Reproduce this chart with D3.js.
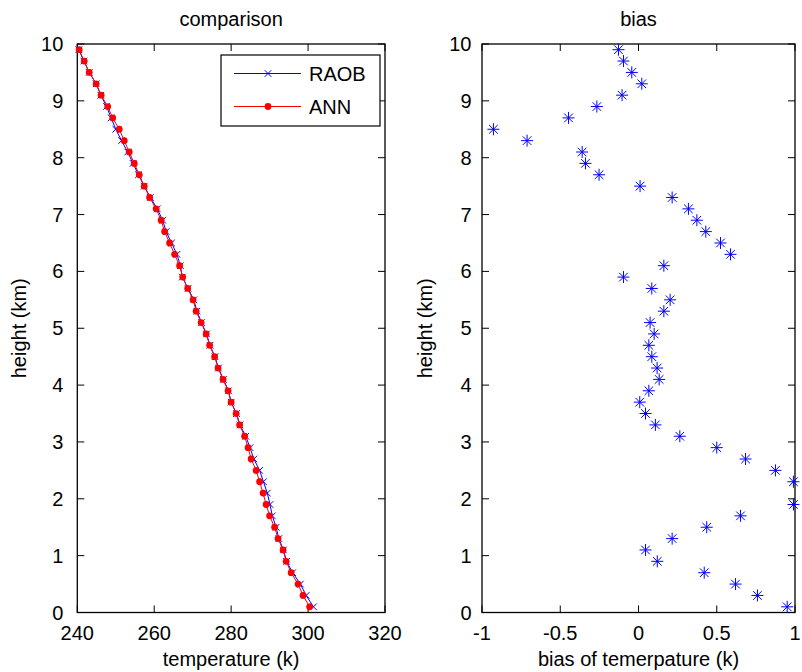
<!DOCTYPE html>
<html>
<head>
<meta charset="utf-8">
<script src="https://cdn.jsdelivr.net/npm/d3@7"></script>
<style>
  body { margin: 0; background: #fff; }
  text { font-family: "Liberation Sans", Arial, sans-serif; fill: #000; }
</style>
</head>
<body>
<div id="chart"></div>
<script>
// heights of the levels (km)
const heights = [0.1, 0.3, 0.5, 0.7, 0.9, 1.1, 1.3, 1.5, 1.7, 1.9,
                 2.1, 2.3, 2.5, 2.7, 2.9, 3.1, 3.3, 3.5, 3.7, 3.9,
                 4.1, 4.3, 4.5, 4.7, 4.9, 5.1, 5.3, 5.5, 5.7, 5.9,
                 6.1, 6.3, 6.5, 6.7, 6.9, 7.1, 7.3, 7.5, 7.7, 7.9,
                 8.1, 8.3, 8.5, 8.7, 8.9, 9.1, 9.3, 9.5, 9.7, 9.9];

// radiosonde temperature (k)
const raob = [301.4, 299.5, 298.0, 296.0, 294.4, 293.6, 292.4, 291.7, 290.7, 290.1,
              289.4, 288.4, 287.4, 285.9, 284.9, 283.8, 282.3, 281.4, 280.0, 279.3,
              278.0, 276.7, 275.8, 274.5, 273.6, 272.3, 271.1, 270.3, 268.8, 267.3,
              266.8, 265.9, 264.5, 263.1, 262.2, 260.8, 259.0, 257.4, 255.9, 254.5,
              253.1, 251.5, 250.0, 248.8, 247.6, 246.1, 244.9, 243.1, 241.7, 240.4];

// neural network retrieval (k)
const ann = [300.4, 298.7, 297.4, 295.6, 294.3, 293.5, 292.2, 291.3, 290.0, 289.1,
             288.3, 287.4, 286.5, 285.2, 284.4, 283.5, 282.2, 281.3, 280.0, 279.2,
             277.9, 276.6, 275.7, 274.4, 273.5, 272.2, 270.9, 270.1, 268.7, 267.4,
             266.6, 265.3, 264.0, 262.7, 261.8, 260.5, 258.8, 257.4, 256.1, 254.8,
             253.5, 252.2, 250.9, 249.2, 247.9, 246.2, 244.9, 243.1, 241.8, 240.5];

// bias of temperature (k)
const bias = [0.95, 0.76, 0.62, 0.42, 0.12, 0.045, 0.215, 0.436, 0.652, 0.99,
              1.1, 0.99, 0.875, 0.684, 0.50, 0.264, 0.108, 0.045, 0.008, 0.066,
              0.132, 0.119, 0.085, 0.066, 0.10, 0.074, 0.162, 0.202, 0.085, -0.096,
              0.162, 0.588, 0.524, 0.43, 0.373, 0.319, 0.215, 0.01, -0.252, -0.339,
              -0.36, -0.712, -0.927, -0.447, -0.266, -0.105, 0.021, -0.043, -0.096, -0.128];

const tempTicks = [240, 260, 280, 300, 320];
const biasTicks = [-1, -0.5, 0, 0.5, 1];
const heightTicks = d3.range(0, 11);

const width = 802, height = 672;
const fontSize = 20;

const svg = d3.select("#chart").append("svg")
    .attr("width", width)
    .attr("height", height);

const y = d3.scaleLinear().domain([0, 10]).range([612.5, 44]);

/*----------------------
AXES BOX WITH INWARD TICKS
----------------------*/
function drawAxes(x, ticks, title, xlabel, ylabelX, yGap) {
    const [x0, x1] = x.range();
    const [y0, y1] = y.range();
    const g = svg.append("g");
    const tl = 7;

    g.append("rect")
        .attr("x", x0).attr("y", y1)
        .attr("width", x1 - x0).attr("height", y0 - y1)
        .attr("fill", "none").attr("stroke", "#000").attr("stroke-width", 1.3);

    ticks.forEach(t => {
        const px = x(t);
        g.append("line").attr("x1", px).attr("x2", px).attr("y1", y0).attr("y2", y0 - tl)
            .attr("stroke", "#000");
        g.append("line").attr("x1", px).attr("x2", px).attr("y1", y1).attr("y2", y1 + tl)
            .attr("stroke", "#000");
        g.append("text").attr("x", px).attr("y", 640)
            .attr("text-anchor", "middle").attr("font-size", fontSize)
            .text(t);
    });

    heightTicks.forEach(t => {
        const py = y(t);
        g.append("line").attr("x1", x0).attr("x2", x0 + tl).attr("y1", py).attr("y2", py)
            .attr("stroke", "#000");
        g.append("line").attr("x1", x1).attr("x2", x1 - tl).attr("y1", py).attr("y2", py)
            .attr("stroke", "#000");
        g.append("text").attr("x", x0 - yGap).attr("y", py + 7)
            .attr("text-anchor", "end").attr("font-size", fontSize)
            .text(t);
    });

    g.append("text").attr("x", (x0 + x1) / 2).attr("y", 26)
        .attr("text-anchor", "middle").attr("font-size", fontSize)
        .text(title);

    g.append("text").attr("x", (x0 + x1) / 2).attr("y", 666)
        .attr("text-anchor", "middle").attr("font-size", fontSize)
        .text(xlabel);

    g.append("text")
        .attr("transform", `translate(${ylabelX},${(y0 + y1) / 2}) rotate(-90)`)
        .attr("text-anchor", "middle").attr("font-size", fontSize)
        .text("height (km)");
}

/*----------------------
LEFT: COMPARISON
----------------------*/
const xT = d3.scaleLinear().domain([240, 320]).range([77.3, 385]);
drawAxes(xT, tempTicks, "comparison", "temperature (k)", 26, 14);

const raobPts = heights.map((h, i) => [xT(raob[i]), y(h)]);
const annPts = heights.map((h, i) => [xT(ann[i]), y(h)]);
const line = d3.line();

function xMark(sel, s) {
    sel.append("path")
        .attr("d", `M${-s},${-s}L${s},${s}M${-s},${s}L${s},${-s}`);
}

svg.append("path").attr("d", line(raobPts))
    .attr("fill", "none").attr("stroke", "#0000ff").attr("stroke-width", 1);
svg.append("g").attr("stroke", "#0000ff").attr("stroke-width", 1)
    .selectAll("g").data(raobPts).join("g")
    .attr("transform", d => `translate(${d[0]},${d[1]})`)
    .each(function () { xMark(d3.select(this), 3.3); });

svg.append("path").attr("d", line(annPts))
    .attr("fill", "none").attr("stroke", "#ff0000").attr("stroke-width", 1);
svg.append("g").attr("fill", "#ff0000")
    .selectAll("circle").data(annPts).join("circle")
    .attr("cx", d => d[0]).attr("cy", d => d[1]).attr("r", 3.4);

// legend
const lg = svg.append("g");
lg.append("rect").attr("x", 221).attr("y", 55).attr("width", 159).attr("height", 71)
    .attr("fill", "#fff").attr("stroke", "#000").attr("stroke-width", 1.2);
const legendItems = [
    { name: "RAOB", color: "#0000ff", y: 73.5 },
    { name: "ANN", color: "#ff0000", y: 106.5 }
];
legendItems.forEach((d, i) => {
    lg.append("line").attr("x1", 234).attr("x2", 301).attr("y1", d.y).attr("y2", d.y)
        .attr("stroke", d.color).attr("stroke-width", 1);
    if (i === 0) {
        const m = lg.append("g").attr("transform", `translate(268,${d.y})`)
            .attr("stroke", d.color);
        xMark(m, 3.3);
    } else {
        lg.append("circle").attr("cx", 268).attr("cy", d.y).attr("r", 3.4).attr("fill", d.color);
    }
    lg.append("text").attr("x", 309).attr("y", d.y + 7).attr("font-size", fontSize)
        .text(d.name);
});

/*----------------------
RIGHT: BIAS
----------------------*/
const xB = d3.scaleLinear().domain([-1, 1]).range([482, 795]);
drawAxes(xB, biasTicks, "bias", "bias of temerpature (k)", 432, 10.5);

svg.append("clipPath").attr("id", "clipB")
    .append("rect").attr("x", 482).attr("y", 0).attr("width", 320).attr("height", height);

const s = 6, sd = 4.3;
const star = `M${-s},0L${s},0M0,${-s}L0,${s}M${-sd},${-sd}L${sd},${sd}M${-sd},${sd}L${sd},${-sd}`;
svg.append("g").attr("clip-path", "url(#clipB)")
    .attr("stroke", "#0000ff").attr("stroke-width", 1).attr("fill", "none")
    .selectAll("path").data(heights.map((h, i) => [bias[i], h]).filter(d => d[0] <= 1.02))
    .join("path")
    .attr("transform", d => `translate(${xB(d[0])},${y(d[1])})`)
    .attr("d", star);
</script>
</body>
</html>
